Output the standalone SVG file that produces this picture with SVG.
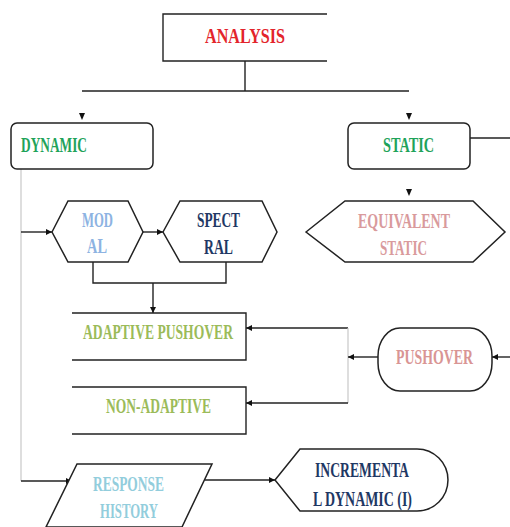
<svg xmlns="http://www.w3.org/2000/svg" width="510" height="527" viewBox="0 0 510 527">
<style>
.s{fill:#fff;stroke:#222;stroke-width:1.5}
.t{font-family:"Liberation Serif",serif;font-weight:bold;font-size:21.5px}
.c{fill:none;stroke:#222;stroke-width:1.4}
.g{fill:none;stroke:#c8c8c8;stroke-width:1.2}
</style>
<defs>
<marker id="a" viewBox="0 0 10 10" refX="10" refY="5" markerWidth="6" markerHeight="6" orient="auto" markerUnits="userSpaceOnUse">
<path d="M0,0 L10,5 L0,10 z" fill="#111"/>
</marker>
</defs>
<rect width="510" height="527" fill="#fff"/>
<g id="connectors">
<path class="c" d="M245,61 V91 M82,91 H409"/>
<path d="M79,113 L85,113 L82,120 z" fill="#111"/>
<path d="M406,113 L412,113 L409,120 z" fill="#111"/>
<path d="M406,189 L412,189 L409,196 z" fill="#111"/>
<path class="c" d="M470,138 H510"/>
<path class="g" d="M21,169 V481"/>
<path class="c" d="M21,232 H52" marker-end="url(#a)"/>
<path class="c" d="M143,232 H163" marker-end="url(#a)"/>
<path class="c" d="M93,262 V283 H226 V262"/>
<path class="c" d="M153,283 V313" marker-end="url(#a)"/>
<path class="c" d="M348,328 H246" marker-end="url(#a)"/>
<path class="g" d="M348,328 V403"/>
<path class="c" d="M348,403 H246" marker-end="url(#a)"/>
<path class="c" d="M378,357 H348" marker-end="url(#a)"/>
<path class="c" d="M510,357 H492" marker-end="url(#a)"/>
<path class="c" d="M21,481 H72" marker-end="url(#a)"/>
<path class="c" d="M205,480 H275" marker-end="url(#a)"/>
</g>
<g id="analysis">
<path class="c" d="M327,14 H163 V61 H327"/>
<text class="t" x="205" y="43" fill="#e3242b" textLength="80" lengthAdjust="spacingAndGlyphs">ANALYSIS</text>
</g>
<g id="dynamic">
<rect class="s" x="11" y="123" width="142" height="46" rx="6"/>
<text class="t" x="21" y="152" fill="#1fa35a" textLength="66" lengthAdjust="spacingAndGlyphs">DYNAMIC</text>
</g>
<g id="static">
<rect class="s" x="348" y="123" width="122" height="46" rx="6"/>
<text class="t" x="383" y="152" fill="#1fa35a" textLength="51" lengthAdjust="spacingAndGlyphs">STATIC</text>
</g>
<g id="modal">
<path class="s" d="M52,232 L68,201 H128 L143,232 L128,262 H68 z"/>
<text class="t" x="82" y="227" fill="#8db3e2" textLength="31" lengthAdjust="spacingAndGlyphs">MOD</text>
<text class="t" x="87" y="253" fill="#8db3e2" textLength="20" lengthAdjust="spacingAndGlyphs">AL</text>
</g>
<g id="spectral">
<path class="s" d="M163,232 L180,201 H262 L277,232 L262,262 H180 z"/>
<text class="t" x="197" y="227" fill="#1f3864" textLength="43" lengthAdjust="spacingAndGlyphs">SPECT</text>
<text class="t" x="204" y="254" fill="#1f3864" textLength="29" lengthAdjust="spacingAndGlyphs">RAL</text>
</g>
<g id="equivalent-static">
<path class="s" d="M306,232 L345,201 H473 L505,232 L473,262 H345 z"/>
<text class="t" x="358" y="228" fill="#d99a9c" textLength="92" lengthAdjust="spacingAndGlyphs">EQUIVALENT</text>
<text class="t" x="380" y="255" fill="#d99a9c" textLength="47" lengthAdjust="spacingAndGlyphs">STATIC</text>
</g>
<g id="adaptive-pushover">
<path class="c" d="M72,313 H246 V360 H72"/>
<text class="t" x="83" y="339" fill="#9bbb59" textLength="150" lengthAdjust="spacingAndGlyphs">ADAPTIVE PUSHOVER</text>
</g>
<g id="non-adaptive">
<path class="c" d="M72,387 H246 V434 H72"/>
<text class="t" x="106" y="413" fill="#9bbb59" textLength="105" lengthAdjust="spacingAndGlyphs">NON-ADAPTIVE</text>
</g>
<g id="pushover">
<rect class="s" x="378" y="328" width="114" height="63" rx="22" ry="28"/>
<text class="t" x="396" y="364" fill="#d99594" textLength="77" lengthAdjust="spacingAndGlyphs">PUSHOVER</text>
</g>
<g id="response-history">
<path class="s" d="M77,464 H212 L182,527 H46 z"/>
<text class="t" x="93" y="491" fill="#92cddc" textLength="71" lengthAdjust="spacingAndGlyphs">RESPONSE</text>
<text class="t" x="100" y="518" fill="#92cddc" textLength="58" lengthAdjust="spacingAndGlyphs">HISTORY</text>
</g>
<g id="incremental-dynamic">
<path class="s" d="M275,480 L300,449 H417 A31,31 0 0 1 417,511 H300 z"/>
<text class="t" x="315" y="477" fill="#1f3864" textLength="94" lengthAdjust="spacingAndGlyphs">INCREMENTA</text>
<text class="t" x="313" y="506" fill="#1f3864" textLength="99" lengthAdjust="spacingAndGlyphs">L DYNAMIC (I)</text>
</g>
</svg>
